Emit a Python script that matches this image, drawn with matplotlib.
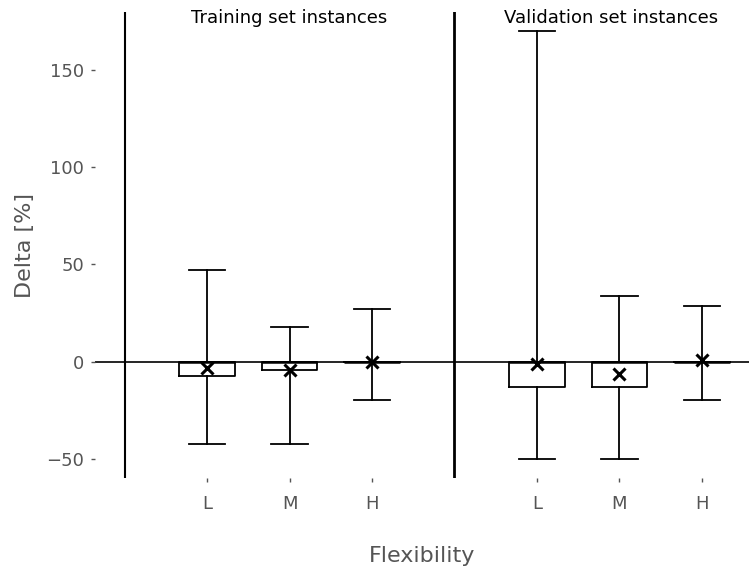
import numpy as np
import matplotlib.pyplot as plt

# box statistics, Delta [%]
groups = ["Training set instances", "Validation set instances"]
levels = ["L", "M", "H"]
q1 = [-7.5, -4.2, 0.0, -13.0, -13.0, 0.0]
q3 = [0.0, 0.0, 0.0, 0.0, 0.0, 0.0]
med = [0.0, 0.0, 0.0, 0.0, 0.0, 0.0]
whislo = [-42.5, -42.5, -20.0, -50.0, -50.0, -20.0]
whishi = [47.0, 18.0, 27.0, 170.0, 33.5, 28.5]
means = [-3.3, -4.5, -0.5, -1.2, -6.2, 1.0]

positions = [1, 2, 3, 5, 6, 7]
separators = [0, 4]

stats = []
for i in range(len(positions)):
    stats.append({"med": med[i], "q1": q1[i], "q3": q3[i],
                  "whislo": whislo[i], "whishi": whishi[i],
                  "mean": means[i], "fliers": []})

fig = plt.figure(figsize=(7.49, 5.71), dpi=100)
ax = fig.add_axes([0.1268, 0.1629, 0.873, 0.816])

ax.axhline(0, color="black", lw=1.2, zorder=1)
ax.axvline(separators[0], color="black", lw=1.5)
ax.axvline(separators[1], color="black", lw=2.0)

line = dict(color="black", lw=1.3)
ax.bxp(stats, positions=positions, widths=0.675, capwidths=0.44,
       showmeans=True, showfliers=False, patch_artist=False,
       boxprops=line, whiskerprops=line, capprops=line,
       medianprops=dict(color="black", lw=1.8),
       meanprops=dict(marker="x", markersize=9, markeredgewidth=2.2,
                      markeredgecolor="black"))

ax.set_xlim(-0.36, 7.57)
ax.set_ylim(-60, 180)
ax.set_xticks(positions)
ax.set_xticklabels(levels * 2)
ax.set_yticks([-50, 0, 50, 100, 150])
for s in ax.spines.values():
    s.set_visible(False)
ax.tick_params(colors="#555555", labelsize=13, length=3, width=1, pad=5)
ax.tick_params(axis="x", pad=9)

ax.text(2, 177, groups[0], ha="center", va="center", fontsize=13)
ax.text(5.9, 177, groups[1], ha="center", va="center", fontsize=13)

ax.set_xlabel("Flexibility", fontsize=16, color="#555555", labelpad=24)
ax.set_ylabel("Delta [%]", fontsize=16, color="#555555", labelpad=8)

fig.savefig("out.png", dpi=100)
